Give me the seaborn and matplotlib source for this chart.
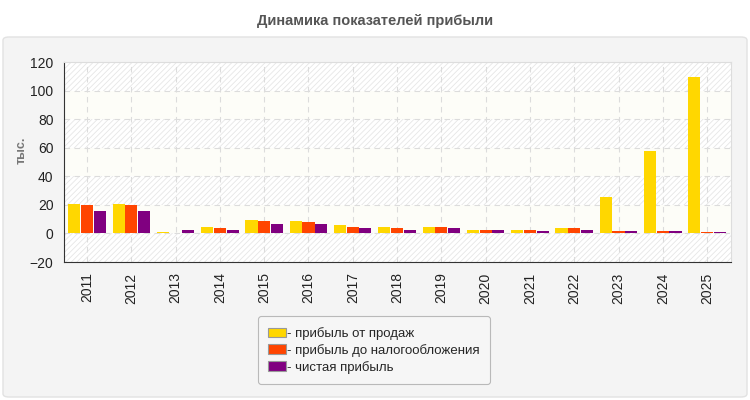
import matplotlib
matplotlib.use("Agg")
import matplotlib.pyplot as plt
import pandas as pd
import seaborn as sns
from matplotlib.patches import FancyBboxPatch

years = [str(y) for y in range(2011, 2026)]
sales_profit = [20.7, 20.7, 1.2, 4.7, 9.6, 8.9, 6.1, 4.7, 4.7, 2.6, 2.6, 4.0, 25.6, 57.8, 109.6]
pretax_profit = [20.0, 20.0, 0.5, 4.0, 8.9, 8.2, 4.7, 4.0, 4.7, 2.6, 2.6, 4.0, 1.9, 1.9, 1.2]
net_profit = [15.8, 15.8, 2.6, 2.6, 6.8, 6.8, 4.0, 2.6, 4.0, 2.6, 1.9, 2.6, 1.9, 1.9, 1.2]
series_names = ["- прибыль от продаж", "- прибыль до налогообложения", "- чистая прибыль"]
colors = ["#FFD700", "#FF4500", "#800080"]
yticks = [-20, 0, 20, 40, 60, 80, 100, 120]

df = pd.concat([
    pd.DataFrame({"year": years, "value": vals, "series": name})
    for name, vals in zip(series_names, [sales_profit, pretax_profit, net_profit])
])

sns.set_style("white")
plt.rcParams["font.family"] = ["Liberation Sans", "DejaVu Sans"]
plt.rcParams["hatch.linewidth"] = 0.6

fig = plt.figure(figsize=(7.5, 4), dpi=100)
fig.patch.set_facecolor("white")

# grey panel below title
panel = FancyBboxPatch((3 / 750, 3 / 400), 744 / 750, 360 / 400,
                       boxstyle="round,pad=0,rounding_size=0.008",
                       transform=fig.transFigure, facecolor="#f4f4f4",
                       edgecolor="#e2e2e2", lw=1, zorder=-10)
fig.patches.append(panel)

fig.text(0.5, 0.948, "Динамика показателей прибыли", ha="center", va="center",
         fontsize=10.5, fontweight="bold", color="#555555")

ax = fig.add_axes([64 / 750, 1 - 262 / 400, 667 / 750, 200 / 400])
ax.set_facecolor("#fdfdf8")

# striped background bands
for lo, hi in zip(yticks[:-1], yticks[1:]):
    if (lo // 20) % 2 == 1:
        ax.axhspan(lo, hi, facecolor="white", edgecolor="#e6e6e6",
                   hatch="//////", lw=0, zorder=0)

sns.barplot(data=df, x="year", y="value", hue="series", palette=colors,
            width=0.86, gap=0.05, saturation=1, linewidth=0, edgecolor="none",
            ax=ax, zorder=3, legend=True)

ax.set_xlim(-0.52, 14.54)
ax.set_ylim(-20, 120)
ax.set_yticks(yticks)
ax.grid(True, axis="both", color="#dcdcdc", linestyle=(0, (5, 4)), lw=0.8, zorder=1)
ax.set_axisbelow(True)
ax.tick_params(axis="x", rotation=90, labelsize=10, length=4, colors="#222222")
ax.tick_params(axis="y", labelsize=10, length=4, colors="#222222")
ax.set_xlabel("")
ax.set_ylabel("тыс.", fontsize=9, fontweight="bold", color="#777777")
ax.yaxis.set_label_coords(-0.055, 0.56)
for side in ["left", "bottom"]:
    ax.spines[side].set_color("#333333")
for side in ["top", "right"]:
    ax.spines[side].set_color("#dddddd")

handles, labels = ax.get_legend_handles_labels()
ax.legend_.remove()
leg = fig.legend(handles, labels, loc="center", bbox_to_anchor=(0.4987, 0.1245),
                 fontsize=9.5, frameon=True, fancybox=True, handlelength=1.3,
                 handleheight=0.7, handletextpad=0.1, labelspacing=0.3,
                 borderpad=0.8, facecolor="#f7f7f7", edgecolor="#aaaaaa")
leg.get_frame().set_linewidth(0.8)
for h in leg.legend_handles:
    h.set_edgecolor("#999999")
    h.set_linewidth(0.8)

fig.savefig("out.png", dpi=100)
